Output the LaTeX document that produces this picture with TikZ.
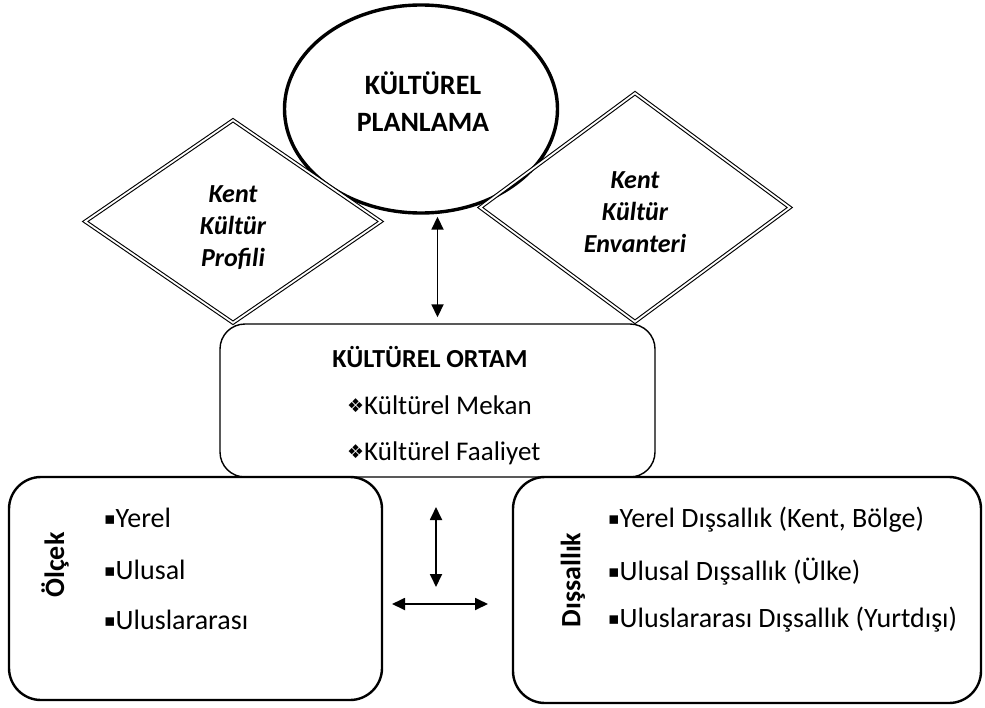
\documentclass[tikz,border=0pt]{standalone}
\usepackage{fontspec}
\setmainfont{Carlito}
\newfontfamily\symf{DejaVu Sans}
\usetikzlibrary{shapes.geometric,arrows.meta}
\newcommand\bulsq{\raisebox{0.12em}{\symf\fontsize{17}{17}\selectfont ▪}}
\newcommand\dsym{\raisebox{0.08em}{\symf\fontsize{19}{19}\selectfont ❖}}
\begin{document}
\begin{tikzpicture}[x=1pt,y=-1pt,
  biarr/.style={{Triangle[length=13pt,width=12pt]}-{Triangle[length=13pt,width=12pt]}, line width=1.8pt},
  dbl/.style={diamond, draw, line width=1.1pt, double, double distance=1.8pt, inner sep=0pt},
  rbox/.style={draw, rectangle, rounded corners=32pt, line width=2.4pt, inner sep=0pt},
  dtext/.style={font=\bfseries\itshape\fontsize{26}{32}\selectfont, align=center},
  bul/.style={anchor=west, font=\fontsize{28}{30}\selectfont, inner sep=0pt},
  side/.style={rotate=90, font=\bfseries\fontsize{28}{30}\selectfont, inner sep=0pt}]
\useasboundingbox (0,0) rectangle (985,707);
\fill[white] (0,0) rectangle (985,707);

% top ellipse
\node[ellipse, draw, line width=3.4pt, minimum width=273pt, minimum height=208pt, inner sep=0pt] (pl) at (421,109) {};
\node[font=\bfseries\fontsize{28}{37}\selectfont, align=center] (pltext) at (423,102) {KÜLTÜREL\\PLANLAMA};

% diamonds
\node[dbl, minimum width=296pt, minimum height=203pt] (kp) at (233,221.5) {};
\node[dtext] (kptext) at (233,228) {Kent\\Kültür\\Profili};
\node[dbl, minimum width=310pt, minimum height=229pt] (ke) at (635,207.5) {};
\node[dtext] (ketext) at (635,212) {Kent\\Kültür\\Envanteri};

% lower boxes
\node[rbox, minimum width=373pt, minimum height=223pt] (olcek) at (195.5,588.5) {};
\node[rbox, minimum width=468pt, minimum height=226pt] (dis) at (747,590) {};

% middle box
\node[draw, rectangle, rounded corners=25pt, line width=1.4pt, inner sep=0pt, minimum width=435pt, minimum height=153pt] (ortam) at (437.5,400.5) {};
\node[font=\bfseries\fontsize{26}{28}\selectfont] (ottitle) at (430,357) {KÜLTÜREL ORTAM};
\node[anchor=west, font=\fontsize{27}{28}\selectfont, inner sep=0pt] (om1) at (347,405) {\dsym Kültürel Mekan};
\node[anchor=west, font=\fontsize{27}{28}\selectfont, inner sep=0pt] (om2) at (347,453) {\dsym Kültürel Faaliyet};

% side labels
\node[side] (olt) at (55,565) {Ölçek};
\node[side] (dist) at (573,580) {Dışsallık};

% bullets
\node[bul] (o1) at (104,518) {\bulsq Yerel};
\node[bul] (o2) at (104,570) {\bulsq Ulusal};
\node[bul] (o3) at (104,620) {\bulsq Uluslararası};
\node[bul] (d1) at (608,520) {\bulsq Yerel Dışsallık (Kent, Bölge)};
\node[bul] (d2) at (608,572) {\bulsq Ulusal Dışsallık (Ülke)};
\node[bul] (d3) at (608,620) {\bulsq Uluslararası Dışsallık (Yurtdışı)};

% arrows
\draw[biarr, shorten <=2pt, shorten >=6pt] (pl.south -| ortam.north) -- (ortam.north);
\coordinate (va) at (436,507);
\coordinate (vb) at (436,587);
\coordinate (ha) at (392,604);
\coordinate (hb) at (488,604);
\draw[biarr] (va) -- (vb);
\draw[biarr] (ha) -- (hb);
\end{tikzpicture}
\end{document}
